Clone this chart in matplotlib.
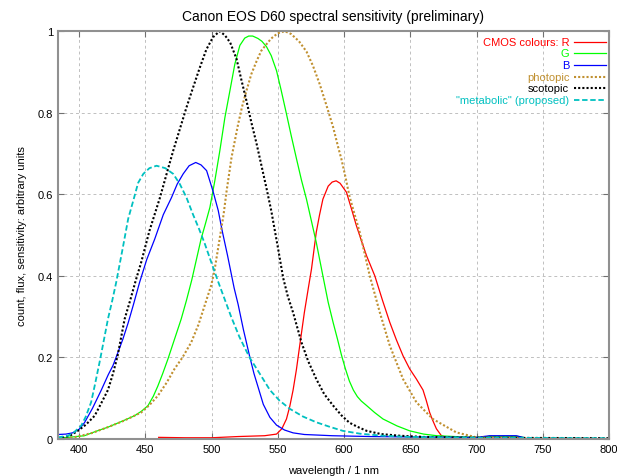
import matplotlib
matplotlib.use("Agg")
import matplotlib.pyplot as plt

plt.rcParams['font.family'] = ['Liberation Sans Narrow', 'Liberation Sans', 'DejaVu Sans']

# CMOS colour channels
r_wl = [460, 480, 500, 520, 540, 549, 553, 556.5, 559, 561.5, 564, 566.5, 570, 573, 575.4, 579, 581.5, 584,
        588, 591, 594, 597, 601.8, 605.5, 609.3, 613, 617, 623.2, 629, 634.5, 639.5, 644.5, 649.5, 654.6,
        659.6, 662, 664.6, 667, 669.7, 673.5, 678, 700, 710, 730, 735]
r_val = [0.004, 0.003, 0.003, 0.006, 0.008, 0.012, 0.025, 0.049, 0.08, 0.12, 0.17, 0.229, 0.31, 0.37, 0.417,
         0.507, 0.55, 0.588, 0.62, 0.63, 0.633, 0.627, 0.605, 0.565, 0.523, 0.487, 0.449, 0.4, 0.34, 0.286,
         0.243, 0.204, 0.172, 0.147, 0.12, 0.095, 0.065, 0.045, 0.025, 0.008, 0.003, 0.002, 0.005, 0.005,
         0.002]

g_wl = [384, 395, 404, 412, 421.7, 432, 441.8, 447, 452, 456, 459.4, 463, 467, 472, 477, 481, 485, 488.5,
        492, 495.5, 498.7, 502.4, 506.2, 510, 513.8, 517.5, 521.3, 525, 528, 531, 535, 538, 541.4, 545, 549,
        552.5, 556.5, 560, 564, 567.8, 571.6, 575.3, 579, 584, 588, 591.7, 595, 598, 601, 604, 607, 610,
        613, 617, 623, 629.4, 640, 649.5, 660, 670, 690, 705, 710, 730, 735]
g_val = [0.002, 0.005, 0.008, 0.018, 0.029, 0.043, 0.057, 0.068, 0.082, 0.105, 0.13, 0.16, 0.196, 0.245,
         0.294, 0.34, 0.39, 0.44, 0.49, 0.53, 0.568, 0.633, 0.707, 0.788, 0.854, 0.919, 0.965, 0.983, 0.988,
         0.988, 0.982, 0.975, 0.962, 0.94, 0.903, 0.855, 0.797, 0.745, 0.688, 0.635, 0.588, 0.535, 0.482,
         0.4, 0.335, 0.286, 0.245, 0.206, 0.172, 0.142, 0.12, 0.104, 0.093, 0.082, 0.065, 0.049, 0.032,
         0.02, 0.012, 0.008, 0.005, 0.004, 0.007, 0.007, 0.004]

b_wl = [384, 390, 395, 400, 404, 410, 416.7, 422, 425.5, 429, 433, 437, 441, 445.6, 451, 457, 463.5, 469.7,
        474, 478.5, 483, 488, 492, 496.2, 501, 505, 508, 512, 517, 520, 524, 528.6, 532, 535, 539, 544, 549,
        555, 561.5, 570, 591, 620, 650, 700, 710, 730, 735]
b_val = [0.011, 0.012, 0.015, 0.024, 0.04, 0.075, 0.12, 0.158, 0.18, 0.21, 0.245, 0.285, 0.33, 0.384, 0.44,
         0.49, 0.55, 0.592, 0.625, 0.65, 0.67, 0.678, 0.672, 0.658, 0.608, 0.56, 0.51, 0.45, 0.37, 0.33,
         0.268, 0.204, 0.16, 0.128, 0.085, 0.053, 0.034, 0.022, 0.015, 0.011, 0.008, 0.006, 0.005, 0.004,
         0.008, 0.008, 0.004]

# reference curves
phot_wl = [384, 390, 399, 410, 421.7, 434, 446.8, 453, 459.4, 466, 472, 478, 484.6, 490, 494.7, 499.6, 502,
           505.5, 509, 511.3, 515, 520, 523, 526.3, 530, 534, 537.5, 541.4, 545, 550, 555.2, 560, 566,
           571.6, 576.5, 581.6, 586.5, 591.7, 595.5, 598, 601, 604, 608, 611.8, 615.5, 619.4, 627, 634.5,
           644.5, 654.6, 667, 684.8, 700, 720, 800]
phot_val = [0.0, 0.001, 0.006, 0.015, 0.029, 0.045, 0.065, 0.083, 0.106, 0.138, 0.172, 0.2, 0.237, 0.28,
            0.327, 0.376, 0.41, 0.48, 0.55, 0.608, 0.69, 0.772, 0.815, 0.854, 0.895, 0.927, 0.952, 0.968,
            0.982, 0.995, 1.0, 0.993, 0.975, 0.95, 0.915, 0.87, 0.82, 0.765, 0.716, 0.686, 0.643, 0.596,
            0.55, 0.507, 0.455, 0.4, 0.31, 0.229, 0.147, 0.09, 0.049, 0.016, 0.004, 0.002, 0.001]

scot_wl = [384, 389, 394, 399, 405, 411.7, 417, 421.7, 425.5, 429, 434.3, 438.5, 443, 446.8, 453, 461, 466,
           471, 476, 481, 486, 491, 496, 501, 506, 510, 514, 518.8, 522.5, 526.3, 530, 534, 537.5, 541.4, 545,
           550, 554, 557.5, 561.5, 567.8, 573, 579, 585, 591.7, 598, 604, 610, 617, 628, 642, 660, 700, 800]
scot_val = [0.002, 0.004, 0.01, 0.02, 0.035, 0.057, 0.09, 0.12, 0.16, 0.204, 0.294, 0.34, 0.392, 0.433,
            0.51, 0.592, 0.65, 0.707, 0.76, 0.813, 0.862, 0.91, 0.955, 0.985, 1.0, 0.99, 0.972, 0.932, 0.88,
            0.829, 0.776, 0.723, 0.672, 0.615, 0.56, 0.47, 0.395, 0.35, 0.31, 0.237, 0.19, 0.147, 0.11, 0.082,
            0.058, 0.04, 0.03, 0.02, 0.012, 0.008, 0.005, 0.003, 0.002]

meta_wl = [384, 391.5, 396, 401.6, 405, 409, 412, 415.5, 418.5, 421.7, 425, 428, 433, 437, 440.8, 444.5,
           448.4, 453, 458.4, 465, 471, 476, 481, 486, 490.5, 494.7, 499, 505, 509, 514.7, 521, 528.6, 535,
           544, 551, 559, 569, 579, 589, 599, 612, 629, 650, 700, 800]
meta_val = [0.004, 0.008, 0.016, 0.033, 0.055, 0.09, 0.135, 0.19, 0.24, 0.294, 0.34, 0.385, 0.47, 0.54,
            0.584, 0.628, 0.65, 0.664, 0.67, 0.664, 0.65, 0.625, 0.592, 0.55, 0.515, 0.48, 0.44, 0.385, 0.35,
            0.30, 0.25, 0.2, 0.167, 0.12, 0.095, 0.074, 0.055, 0.041, 0.03, 0.02, 0.013, 0.008, 0.005, 0.003,
            0.002]

labels = ["CMOS colours: R", "G", "B", "photopic", "scotopic", "\"metabolic\" (proposed)"]
colors = ["#ff0000", "#00ff00", "#0000ff", "#c09030", "#000000", "#00c0c0"]
xticks = [400, 450, 500, 550, 600, 650, 700, 750, 800]
yticks = [0, 0.2, 0.4, 0.6, 0.8, 1]

fig = plt.figure(figsize=(6.17, 4.77), dpi=100)
ax = fig.add_axes([0.094, 0.0776, 0.893, 0.855])

series = [(r_wl, r_val), (g_wl, g_val), (b_wl, b_val),
          (phot_wl, phot_val), (scot_wl, scot_val), (meta_wl, meta_val)]
styles = [dict(lw=0.9), dict(lw=0.9), dict(lw=0.9),
          dict(lw=1.5, ls=(0, (1, 1))), dict(lw=1.5, ls=(0, (1, 1))), dict(lw=1.3, ls=(0, (3, 1.5)))]

for (x, y), c, st in zip(series, colors, styles):
    ax.plot(x, y, color=c, solid_joinstyle='round', **st)

ax.set_xlim(384, 800)
ax.set_ylim(0, 1)
ax.set_xticks(xticks)
ax.set_xticklabels([str(t) for t in xticks])
ax.set_yticks(yticks)
ax.set_yticklabels(["0", "0.2", "0.4", "0.6", "0.8", "1"])
ax.tick_params(direction='in', top=True, right=True, labelsize=8, length=4, color='#707070')
ax.grid(True, ls=(0, (3, 3)), color='#c0c0c0', lw=0.7)
for s in ax.spines.values():
    s.set_color('#909090')
    s.set_linewidth(1.5)

ax.set_title("Canon EOS D60 spectral sensitivity (preliminary)", fontsize=10, pad=8)
ax.set_xlabel("wavelength / 1 nm", fontsize=8, labelpad=8)
ax.set_ylabel("count, flux, sensitivity: arbitrary units", fontsize=8, labelpad=8)

# gnuplot-style key: right-aligned text followed by the line sample
for i, (lab, c, st) in enumerate(zip(labels, colors, styles)):
    yk = 0.974 - i * 0.0285
    ax.text(0.928, yk, lab, transform=ax.transAxes, ha='right', va='center', fontsize=8, color=c)
    ax.plot([0.936, 0.994], [yk, yk], transform=ax.transAxes, color=c, **st)

fig.savefig("out.png", dpi=100)
